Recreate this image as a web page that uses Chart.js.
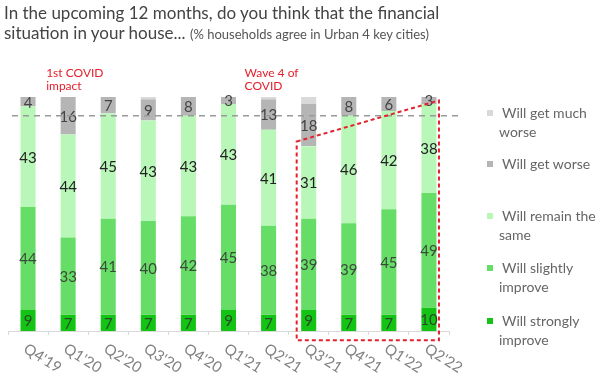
<!DOCTYPE html>
<html>
<head>
<meta charset="utf-8">
<script src="https://cdn.jsdelivr.net/npm/chart.js@4/dist/chart.umd.min.js"></script>
<style>
  body { margin: 0; background: #fff; font-family: Lato, "Open Sans", sans-serif; }
  #wrap { position: relative; width: 600px; height: 378px; overflow: hidden; }
  #chart { position: absolute; left: 0; top: 0; }
  .title { position: absolute; left: 4px; color: #444; white-space: nowrap; }
  .title small { font-size: 13px; color: #555; }
  #legend { position: absolute; left: 486px; top: 0; width: 114px; }
  .item { position: absolute; left: 0; font-size: 14px; color: #666; line-height: 19px; }
  .item span.box { position: absolute; left: 1px; top: 7px; width: 6px; height: 6px; }
  .item .txt { padding-left: 16px; display: block; }
  .item .txt2 { display: block; padding-left: 13px; }
</style>
</head>
<body>
<div id="wrap">
  <canvas id="chart" width="600" height="378"></canvas>
  <div class="title" style="top:2px;font-size:17px;">In the upcoming 12 months, do you think that the financial</div>
  <div class="title" style="top:22px;font-size:17px;">situation in your house... <small>(% households agree in Urban 4 key cities)</small></div>
  <div id="legend"></div>
</div>
<script>
// data, stacked bottom -> top
var quarters = ["Q4'19", "Q1'20", "Q2'20", "Q3'20", "Q4'20", "Q1'21", "Q2'21", "Q3'21", "Q4'21", "Q1'22", "Q2'22"];
var strongly_improve = [9, 7, 7, 7, 7, 9, 7, 9, 7, 7, 10];
var slightly_improve = [44, 33, 41, 40, 42, 45, 38, 39, 39, 45, 49];
var remain_same = [43, 44, 45, 43, 43, 43, 41, 31, 46, 42, 38];
var get_worse = [4, 16, 7, 9, 8, 3, 13, 18, 8, 6, 3];
var much_worse = [0, 0, 0, 1, 0, 0, 1, 3, 0, 0, 0];
var ref_line = 92;

var series_names = ["Will strongly improve", "Will slightly improve", "Will remain the same", "Will get worse", "Will get much worse"];
var series_colors = ["#14c414", "#66dd66", "#b9f7b9", "#b5b5b5", "#d9d9d9"];
var label_colors = ["#2b4a2b", "#3a4a3a", "#222", "#444", "#444"];

// legend (top -> bottom, reversed order)
var legend_pos = [[103, ["Will get much", "worse"]], [154, ["Will get worse"]], [206, ["Will remain the", "same"]], [258, ["Will slightly", "improve"]], [311, ["Will strongly", "improve"]]];
var legend_html = "";
for (var i = 0; i < 5; i++) {
    var idx = 4 - i;
    var lp = legend_pos[i];
    legend_html += "<div class='item' style='top:" + lp[0] + "px'><span class='box' style='background:" + series_colors[idx] + "'></span>";
    legend_html += "<span class='txt'>" + lp[1][0] + "</span>";
    if (lp[1][1]) legend_html += "<span class='txt2'>" + lp[1][1] + "</span>";
    legend_html += "</div>";
}
document.getElementById("legend").innerHTML = legend_html;

var all_values = [strongly_improve, slightly_improve, remain_same, get_worse, much_worse];
var datasets = [];
for (var s = 0; s < 5; s++) {
    datasets.push({
        label: series_names[s],
        data: all_values[s],
        backgroundColor: series_colors[s],
        borderWidth: 0,
        barPercentage: 0.375,
        categoryPercentage: 1.0
    });
}

// numbers inside segments, rotated x labels, annotations
var extras = {
    id: "extras",
    afterDatasetsDraw: function (chart) {
        var ctx = chart.ctx;
        var xs = chart.scales.x, ys = chart.scales.y;
        ctx.save();
        // segment numbers (not for "much worse")
        ctx.font = "15px Lato, sans-serif";
        ctx.textAlign = "center";
        ctx.textBaseline = "middle";
        for (var s = 0; s < 4; s++) {
            var meta = chart.getDatasetMeta(s);
            meta.data.forEach(function (bar, j) {
                var v = all_values[s][j];
                if (!v) return;
                ctx.fillStyle = label_colors[s];
                ctx.fillText(v, bar.x, (bar.y + bar.base) / 2 + 1);
            });
        }
        // dashed reference line
        var yl = ys.getPixelForValue(ref_line);
        ctx.strokeStyle = "#9a9a9a";
        ctx.lineWidth = 1.5;
        ctx.setLineDash([6, 5]);
        ctx.beginPath();
        ctx.moveTo(xs.left + 4, yl);
        ctx.lineTo(xs.right + 10, yl);
        ctx.stroke();
        // red dashed polygon around the last four quarters
        var xl = xs.getPixelForValue(7) - 12, xr = xs.getPixelForValue(10) + 10;
        ctx.strokeStyle = "#e3202c";
        ctx.lineWidth = 2;
        ctx.setLineDash([4, 3]);
        ctx.beginPath();
        ctx.moveTo(xl, ys.getPixelForValue(81));
        ctx.lineTo(xr, ys.getPixelForValue(98.5));
        ctx.lineTo(xr, ys.getPixelForValue(-4));
        ctx.lineTo(xl, ys.getPixelForValue(-4));
        ctx.closePath();
        ctx.stroke();
        ctx.setLineDash([]);
        // red annotation texts
        ctx.fillStyle = "#e3202c";
        ctx.font = "12px Lato, sans-serif";
        ctx.textAlign = "left";
        ctx.textBaseline = "alphabetic";
        var xa = xs.getPixelForValue(1) - 22;
        ctx.fillText("1st COVID", xa, 77);
        ctx.fillText("impact", xa, 90);
        var xb = xs.getPixelForValue(6) - 24;
        ctx.fillText("Wave 4 of", xb, 77);
        ctx.fillText("COVID", xb, 90);
        // slanted category labels
        ctx.fillStyle = "#808080";
        ctx.font = "15px Lato, sans-serif";
        ctx.textBaseline = "top";
        quarters.forEach(function (q, j) {
            ctx.save();
            ctx.translate(xs.getPixelForValue(j) + 1, 341);
            ctx.rotate(32 * Math.PI / 180);
            ctx.fillText(q, 0, 0);
            ctx.restore();
        });
        ctx.restore();
    }
};

new Chart(document.getElementById("chart"), {
    type: "bar",
    data: { labels: quarters, datasets: datasets },
    options: {
        responsive: false,
        animation: false,
        layout: { padding: { left: 8, right: 151, top: 97, bottom: 43 } },
        plugins: { legend: { display: false }, tooltip: { enabled: false } },
        scales: {
            x: {
                stacked: true,
                ticks: { display: false },
                grid: { offset: true, drawOnChartArea: false, drawTicks: true, tickLength: 4, color: "#d9d9d9" },
                border: { display: true, color: "#d9d9d9" }
            },
            y: { stacked: true, min: 0, max: 100, display: false }
        }
    },
    plugins: [extras]
});
</script>
</body>
</html>
